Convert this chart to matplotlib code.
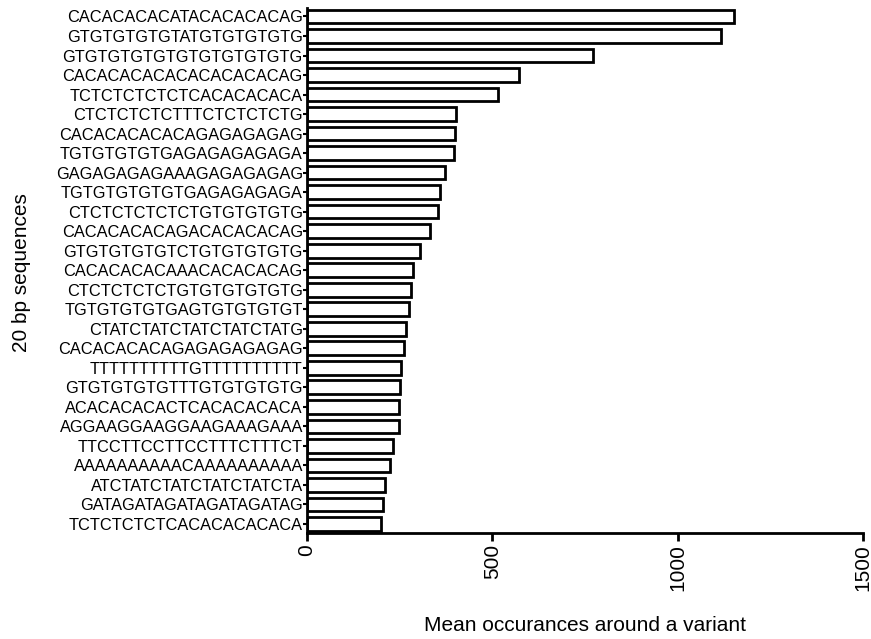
import matplotlib
matplotlib.use("Agg")
import matplotlib.pyplot as plt
import numpy as np

plt.rcParams['font.family'] = ['Liberation Sans', 'DejaVu Sans']

sequences = [
    "CACACACACATACACACACAG", "GTGTGTGTGTATGTGTGTGTG", "GTGTGTGTGTGTGTGTGTGTG",
    "CACACACACACACACACACAG", "TCTCTCTCTCTCACACACACA", "CTCTCTCTCTTTCTCTCTCTG",
    "CACACACACACAGAGAGAGAG", "TGTGTGTGTGAGAGAGAGAGA", "GAGAGAGAGAAAGAGAGAGAG",
    "TGTGTGTGTGTGAGAGAGAGA", "CTCTCTCTCTCTGTGTGTGTG", "CACACACACAGACACACACAG",
    "GTGTGTGTGTCTGTGTGTGTG", "CACACACACAAACACACACAG", "CTCTCTCTCTGTGTGTGTGTG",
    "TGTGTGTGTGAGTGTGTGTGT", "CTATCTATCTATCTATCTATG", "CACACACACAGAGAGAGAGAG",
    "TTTTTTTTTTGTTTTTTTTTT", "GTGTGTGTGTTTGTGTGTGTG", "ACACACACACTCACACACACA",
    "AGGAAGGAAGGAAGAAAGAAA", "TTCCTTCCTTCCTTTCTTTCT", "AAAAAAAAAACAAAAAAAAAA",
    "ATCTATCTATCTATCTATCTA", "GATAGATAGATAGATAGATAG", "TCTCTCTCTCACACACACACA",
]
mean_occurrences = [
    1151, 1116, 770, 573, 516, 402, 400, 397, 371, 360, 353, 331, 306, 285,
    281, 276, 268, 261, 254, 250, 249, 247, 232, 225, 211, 205, 200,
]

fig = plt.figure(figsize=(8.71, 6.39), dpi=100)
ax = fig.add_axes([0.3525, 0.166, 0.6385, 0.8215])

ypos = np.arange(len(sequences))
ax.barh(ypos, mean_occurrences, height=0.7, color='white',
        edgecolor='black', linewidth=2.0)

ax.set_ylim(26.46, -0.435)
ax.set_xlim(0, 1500)
ax.set_yticks(ypos)
ax.set_yticklabels(sequences, fontsize=11.8)
ax.set_xticks([0, 500, 1000, 1500])
ax.set_xticklabels(['0', '500', '1000', '1500'], rotation=90, fontsize=15)

for side in ['top', 'right']:
    ax.spines[side].set_visible(False)
for side in ['left', 'bottom']:
    ax.spines[side].set_linewidth(2.0)
ax.tick_params(axis='y', length=3, width=1.5, pad=0)
ax.tick_params(axis='x', length=6, width=2.0, pad=2)

ax.set_xlabel('Mean occurances around a variant', fontsize=15, labelpad=18)
fig.text(0.025, 0.574, '20 bp sequences', rotation=90, fontsize=15,
         ha='center', va='center')

fig.savefig('out.png', dpi=100)
